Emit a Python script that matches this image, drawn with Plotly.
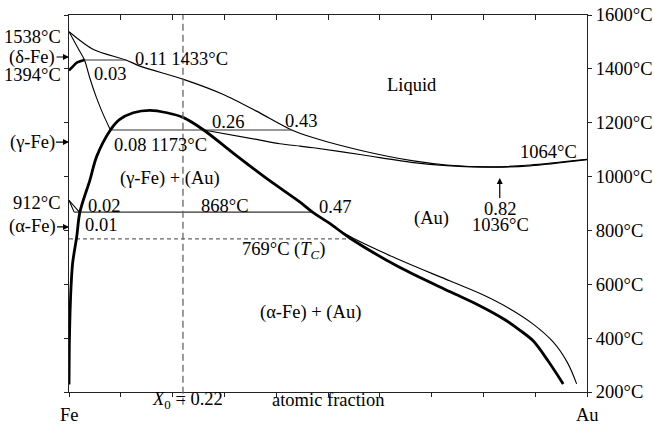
import plotly.graph_objects as go

FONT = "Liberation Serif, Times New Roman, Times, serif"
FS = 18.5

# ---------------- data (atomic fraction Au, temperature °C) ----------------
liq_x = [0.0, 0.047, 0.11, 0.137, 0.221, 0.298, 0.362, 0.43, 0.472, 0.568, 0.665, 0.729, 0.82, 0.89, 1.0]
liq_T = [1538, 1472, 1433, 1410, 1361, 1305, 1243, 1173, 1144, 1095, 1058, 1043, 1036, 1043, 1064]

solAu_x = [0.26, 0.362, 0.407, 0.446, 0.472, 0.568, 0.665, 0.729, 0.82, 0.89, 1.0]
solAu_T = [1173, 1138, 1122, 1113, 1107, 1080, 1052, 1041, 1035, 1040, 1063]

delta_x = [0.0, 0.015, 0.03, 0.04, 0.053, 0.066, 0.08]
delta_T = [1538, 1485, 1433, 1367, 1293, 1231, 1173]

gd_x = [0.0, 0.005, 0.015, 0.03]
gd_T = [1394, 1404, 1423, 1433]

gap_x = [0.0, 0.0006, 0.002, 0.004, 0.007, 0.015, 0.021, 0.0405, 0.0535, 0.08, 0.098, 0.124,
         0.156, 0.189, 0.221, 0.26, 0.317, 0.382, 0.446, 0.47, 0.504, 0.542, 0.639, 0.736,
         0.79, 0.84, 0.87, 0.896, 0.925, 0.954]
gap_T = [228, 370, 493, 592, 679, 778, 868, 988, 1075, 1173, 1212, 1237,
         1246, 1237, 1219, 1173, 1087, 992, 905, 868, 825, 772, 662, 572,
         523, 470, 430, 390, 315, 230]

solv_x = [0.47, 0.542, 0.639, 0.736, 0.80, 0.85, 0.896, 0.935, 0.962, 0.980]
solv_T = [868, 778, 690, 612, 560, 510, 452, 385, 310, 230]

a1_x = [0.0, 0.02]
a1_T = [912, 868]
a2_x = [0.0, 0.01]
a2_T = [912, 868]

tie1433_x = [0.03, 0.11]
tie1173_x = [0.08, 0.43]
tie868_x = [0.01, 0.47]
curie_x = [0.0, 0.542]
T_1433, T_1173, T_868, T_C = 1433, 1173, 868, 769
X0 = 0.22
X_MIN, T_MIN = 0.82, 1036

yticks = [200, 400, 600, 800, 1000, 1200, 1400, 1600]
ytick_text = [f"{t}°C" for t in yticks]
xticks = [i / 10 for i in range(11)]

# ---------------- figure ----------------
fig = go.Figure()

def line(x, y, w=1.0, color="black", dash=None, shape="linear", smoothing=0.8):
    fig.add_trace(go.Scatter(x=x, y=y, mode="lines",
                             line=dict(width=w, color=color, dash=dash, shape=shape,
                                       smoothing=smoothing),
                             showlegend=False, hoverinfo="skip"))

line(liq_x, liq_T, 1.2, shape="spline")
line(solAu_x, solAu_T, 1.2, shape="spline")
line(delta_x, delta_T, 1.1, shape="spline", smoothing=0.6)
line(gd_x, gd_T, 2.6, shape="spline")
line(solv_x, solv_T, 1.1, shape="spline", smoothing=1.0)
line(a1_x, a1_T, 1.1)
line(a2_x, a2_T, 1.1)
line(tie1433_x, [T_1433] * 2, 1.1, color="#333")
line(tie1173_x, [T_1173] * 2, 1.1, color="#333")
line(tie868_x, [T_868] * 2, 1.1, color="#333")
line(curie_x, [T_C] * 2, 1.2, color="#666", dash="4px,3px")
line(gap_x, gap_T, 2.8, shape="spline", smoothing=0.9)

# dummy trace for the secondary (left / top) axes
fig.add_trace(go.Scatter(x=[None], y=[None], xaxis="x2", yaxis="y2",
                         showlegend=False, hoverinfo="skip"))

fig.add_shape(type="line", xref="x", yref="paper", x0=X0, x1=X0, y0=-0.034, y1=1,
              line=dict(color="#666", width=1.3, dash="7px,4px"))

def txt(s, x, y, xa="center", ya="middle", xref="paper", yref="y"):
    fig.add_annotation(text=s, x=x, y=y, xref=xref, yref=yref, xanchor=xa, yanchor=ya,
                       showarrow=False, font=dict(family=FONT, size=FS, color="black"))

# x domain spans the full paper width of the plot area, so paper x == atomic fraction
txt("1538°C", -0.0116, 1519, xa="right")
txt("1394°C", -0.0116, 1376, xa="right")
txt("912°C", -0.0116, 901, xa="right")
txt("0.11 1433°C", 0.123, 1437, xa="left")
txt("0.03", 0.0438, 1381, xa="left")
txt("Liquid", 0.662, 1341)
txt("0.26", 0.307, 1203)
txt("0.43", 0.448, 1207)
txt("0.08 1173°C", 0.0824, 1118, xa="left")
txt("(γ-Fe) + (Au)", 0.195, 994)
txt("0.02", 0.0328, 892, xa="left")
txt("868°C", 0.3006, 892)
txt("0.47", 0.478, 886, xa="left")
txt("0.01", 0.0276, 821, xa="left")
txt("769°C (<i>T</i><sub><i>C</i></sub>)", 0.330, 725, xa="left")
txt("(Au)", 0.699, 845)
txt("1036°C", 0.833, 820)
txt("1064°C", 0.985, 1090, xa="right")
txt("(α-Fe) + (Au)", 0.466, 497)
txt("Fe", 0.0, -0.062, yref="paper")
txt("<i>X</i><sub>0</sub> = 0.22", 0.156, -0.0225, xa="left", yref="paper")
txt("atomic fraction", 0.5, -0.0225, yref="paper")
txt("Au", 1.0, -0.061, yref="paper")

def arrow_lbl(s, x, y, ax, ay, standoff=0, xshift=0):
    fig.add_annotation(text=s, x=x, y=y, xref="x", yref="y", ax=ax, ay=ay,
                       showarrow=True, arrowhead=2, arrowsize=1, arrowwidth=1.2,
                       arrowcolor="black", standoff=standoff, xshift=xshift,
                       font=dict(family=FONT, size=FS, color="black"))

arrow_lbl("(δ-Fe)", 0.0, 1444, -37, 0)
arrow_lbl("(γ-Fe)", 0.0, 1128, -37, 0)
arrow_lbl("(α-Fe)", 0.0, 813, -37, 0)
arrow_lbl("0.82", X_MIN, T_MIN, 0, 42.6, standoff=11, xshift=6)

axis_common = dict(showline=True, linecolor="#222", linewidth=1.3, showgrid=False,
                   zeroline=False, tickcolor="#222", tickwidth=1.2, automargin=False)

fig.update_layout(
    width=654, height=425,
    margin=dict(l=69, r=67, t=15, b=33, autoexpand=False),
    paper_bgcolor="white", plot_bgcolor="white",
    font=dict(family=FONT, size=FS, color="black"),
    xaxis=dict(range=[0, 1], tickvals=xticks, ticks="outside", ticklen=4,
               showticklabels=False, **axis_common),
    yaxis=dict(range=[200, 1600], side="right", tickvals=yticks, ticktext=ytick_text,
               ticks="outside", ticklen=4, tickfont=dict(family=FONT, size=FS, color="black"),
               **axis_common),
    xaxis2=dict(range=[0, 1], overlaying="x", side="top", tickvals=xticks, ticks="inside",
                ticklen=5, showticklabels=False, **axis_common),
    yaxis2=dict(range=[200, 1600], overlaying="y", side="left", tickvals=yticks,
                ticks="outside", ticklen=4, showticklabels=False, **axis_common),
)

fig.write_html("out.html")
